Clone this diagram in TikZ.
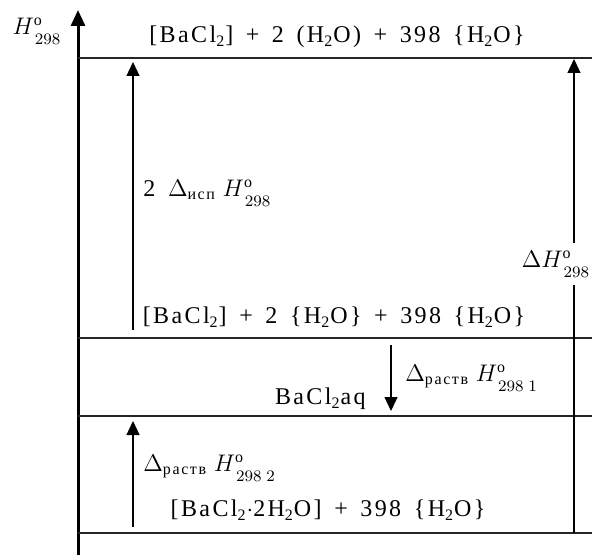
\documentclass[tikz,border=0pt]{standalone}
\usepackage{amsmath}
\usepackage{fontspec}
\setmainfont{Liberation Serif}[LetterSpace=10, WordSpace=1.5]
\usetikzlibrary{arrows.meta, positioning}
\tikzset{
    enaxis/.style={line width=1.5pt, -{Triangle[length=8pt,width=7pt]}},
    enlevel/.style={line width=0.75pt, draw=black!85},
    enarrow/.style={line width=0.6pt, -{Triangle[length=7pt,width=6.5pt]}},
    entext/.style={inner sep=1pt, font=\fontsize{12}{14}\selectfont},
    engap/.style={entext, fill=white, inner ysep=4pt}
}
\newcommand{\enH}[1]{H^{\mathrm{o}}_{\lower2pt\hbox{$\scriptstyle\,#1$}}}

\begin{document}
\begin{tikzpicture}[x=0.5pt, y=-0.5pt]
  \useasboundingbox (0,0) rectangle (592,555);
  % axis
  \coordinate (o) at (78,555);
  \coordinate (ax) at (78,10);
  \draw[enaxis] (o) -- (ax);
  % levels
  \foreach \n/\y in {a/58, b/338, c/416, d/533} {
      \coordinate (\n0) at (78,\y);
      \coordinate (\n1) at (592,\y);
      \draw[enlevel] (\n0) -- (\n1);
  }
  % arrow ends
  \coordinate (p1) at (133,330);
  \coordinate (p2) at (133,62);
  \coordinate (q1) at (574,533);
  \coordinate (q2) at (574,59);
  \coordinate (r1) at (391,345);
  \coordinate (r2) at (391,411);
  \coordinate (s1) at (133,527);
  \coordinate (s2) at (133,421);
  \draw[enarrow] (p1) -- (p2);
  \draw[enarrow] (q1) -- (q2);
  \draw[enarrow] (r1) -- (r2);
  \draw[enarrow] (s1) -- (s2);
  % labels
  \node[entext] (hlab) at (37,31) {$\enH{298}$};
  \node[entext] (st1) at (337,37) {[BaCl\textsubscript{2}] + 2 (H\textsubscript{2}O) + 398 \{H\textsubscript{2}O\}};
  \node[entext, anchor=west] (dvap) at (141,193) {2 $\Delta_{\text{исп}}\;\enH{298}$};
  \node[engap] (dtot) at (556,264) {$\Delta \enH{298}$};
  \node[entext] (st2) at (334,317) {[BaCl\textsubscript{2}] + 2 \{H\textsubscript{2}O\} + 398 \{H\textsubscript{2}O\}};
  \node[entext, anchor=east] (aq) at (368,399) {BaCl\textsubscript{2}aq};
  \node[entext, anchor=west] (dsol1) at (403,378) {$\Delta_{\text{раств}}\;\enH{298\;1}$};
  \node[entext, anchor=west] (dsol2) at (141,468) {$\Delta_{\text{раств}}\;\enH{298\;2}$};
  \node[entext] (st3) at (328,510) {[BaCl\textsubscript{2}$\cdot$2H\textsubscript{2}O] + 398 \{H\textsubscript{2}O\}};
\end{tikzpicture}
\end{document}
